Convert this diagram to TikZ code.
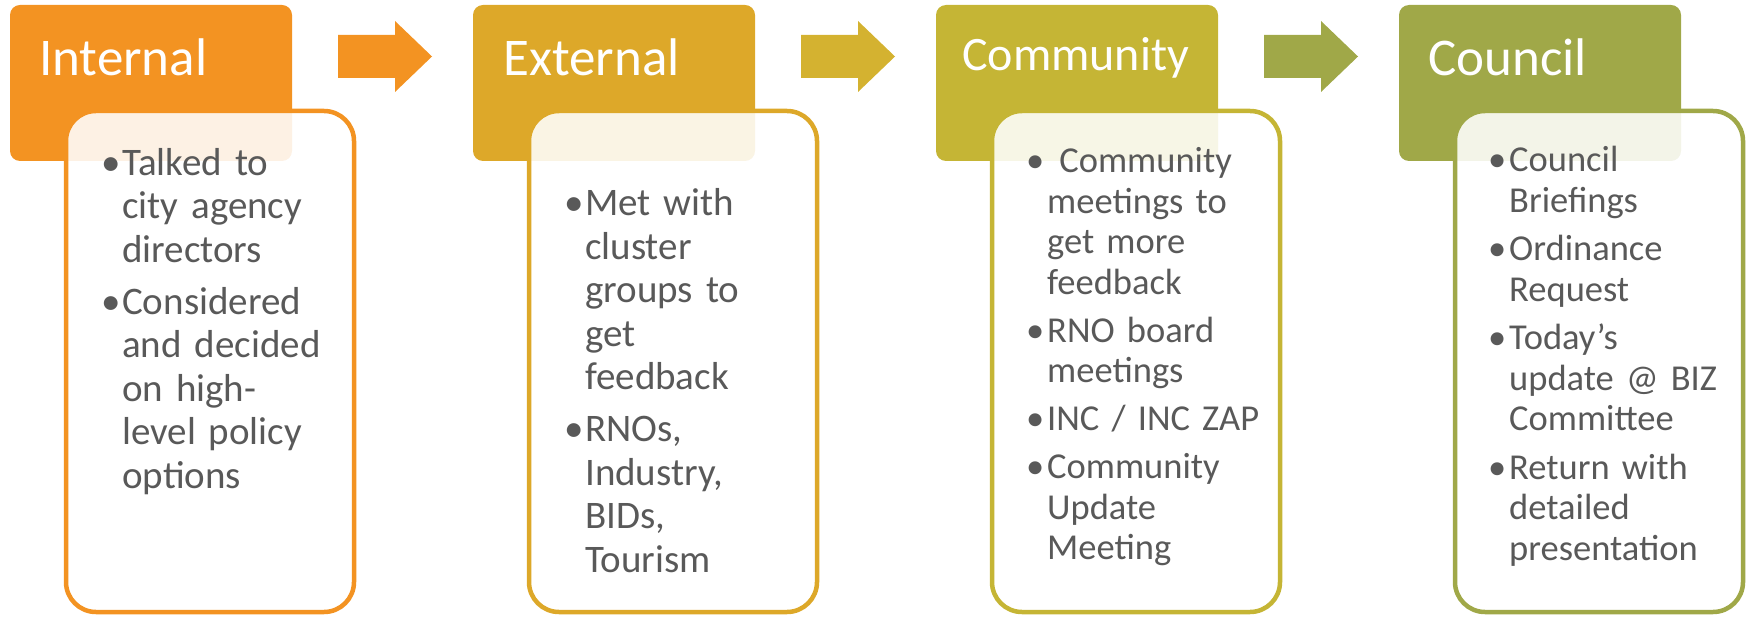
\documentclass[tikz,border=0pt]{standalone}
\usepackage{fontspec}
\setmainfont{Carlito}
\usetikzlibrary{positioning}
\definecolor{intC}{HTML}{F39322}
\definecolor{extC}{HTML}{DDA829}
\definecolor{comC}{HTML}{C5B535}
\definecolor{couC}{HTML}{A0A848}
\definecolor{arrC}{HTML}{D4B230}
\definecolor{txtC}{HTML}{595959}
\newenvironment{blist}[1][8.5pt]{%
  \begin{list}{\strut\textbullet}{%
    \setlength{\leftmargin}{21pt}\setlength{\labelwidth}{21pt}%
    \setlength{\labelsep}{0pt}\setlength{\itemindent}{0pt}%
    \setlength{\itemsep}{#1}\setlength{\parsep}{0pt}%
    \setlength{\topsep}{0pt}\setlength{\partopsep}{0pt}%
    \renewcommand{\makelabel}[1]{##1\hfil}}}%
  {\end{list}}
\tikzset{
  header/.style={
    shape = rectangle,
    rounded corners = 10pt,
    minimum width = 282pt,
    minimum height = 156pt,
    inner sep = 0pt
  },
  bodybox/.style={
    shape = rectangle,
    rounded corners = 30pt,
    line width = 4.5pt,
    minimum width = 288pt,
    minimum height = 501pt,
    fill = white,
    fill opacity = 0.88,
    inner sep = 0pt
  },
  title/.style={
    anchor = base west,
    inner sep = 0pt,
    text = white,
    font = \fontsize{53}{60}\selectfont
  },
  bigtext/.style={
    anchor = north west,
    inner sep = 0pt,
    text width = 245pt,
    text = txtC,
    font = \fontsize{39}{43.5}\selectfont
  },
  smalltext/.style={
    bigtext,
    font = \fontsize{36.5}{40.5}\selectfont
  }
}

\begin{document}
\begin{tikzpicture}[x=1pt,y=-1pt]
    \useasboundingbox (0,0) rectangle (1752,617);

    % headers
    \node[header, fill=intC] (intHead) at (151,83) {};
    \node[header, fill=extC] (extHead) at (614,83) {};
    \node[header, fill=comC] (comHead) at (1077,83) {};
    \node[header, fill=couC] (couHead) at (1540,83) {};

    \node[title] (intTitle) at (39,76) {Internal};
    \node[title] (extTitle) at (503,76) {External};
    \node[title, font=\fontsize{48}{56}\selectfont] (comTitle) at (962,71) {Community};
    \node[title] (couTitle) at (1428,76) {Council};

    % arrows
    \fill[intC] (338,35) --++ (57,0) --++ (0,-14) --++ (37,35.5) --++ (-37,35.5) --++ (0,-14) --++ (-57,0) -- cycle;
    \fill[arrC] (801,35) --++ (57,0) --++ (0,-14) --++ (37,35.5) --++ (-37,35.5) --++ (0,-14) --++ (-57,0) -- cycle;
    \fill[couC] (1264,35) --++ (57,0) --++ (0,-14) --++ (37,35.5) --++ (-37,35.5) --++ (0,-14) --++ (-57,0) -- cycle;

    % bodies
    \node[bodybox, draw=intC] (intBody) at (210,361.5) {};
    \node[bodybox, draw=extC] (extBody) at (673,361.5) {};
    \node[bodybox, draw=comC] (comBody) at (1136,361.5) {};
    \node[bodybox, draw=couC] (couBody) at (1599,361.5) {};

    \node[bigtext] (intList) at (101,131.5) {%
      \begin{blist}
        \item Talked to\\ city agency\\ directors
        \item Considered\\ and decided\\ on high-\\ level policy\\ options
      \end{blist}};
    \node[bigtext] (extList) at (564,172) {%
      \begin{blist}
        \item Met with\\ cluster\\ groups to\\ get\\ feedback
        \item RNOs,\\ Industry,\\ BIDs,\\ Tourism
      \end{blist}};
    \node[smalltext] (comList) at (1026,132) {%
      \begin{blist}[7.5pt]
        \item \ Community\\ meetings to\\ get more\\ feedback
        \item RNO board\\ meetings
        \item INC / INC ZAP
        \item Community\\ Update\\ Meeting
      \end{blist}};
    \node[smalltext] (couList) at (1488,131) {%
      \begin{blist}[8pt]
        \item Council\\ Briefings
        \item Ordinance\\ Request
        \item Today’s\\ update @ BIZ\\ Committee
        \item Return with\\ detailed\\ presentation
      \end{blist}};
\end{tikzpicture}
\end{document}
